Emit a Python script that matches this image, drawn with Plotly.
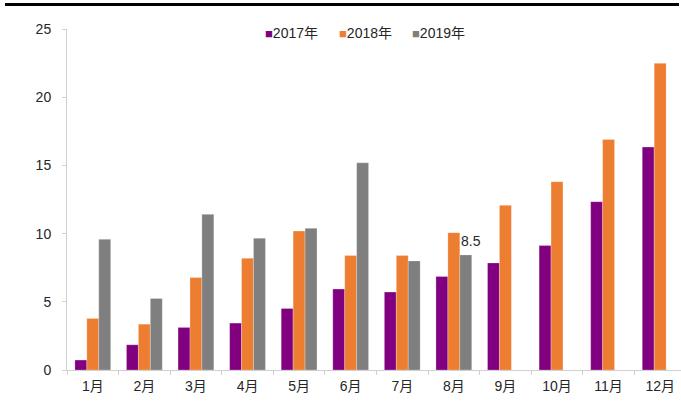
import plotly.graph_objects as go

months = ["1月", "2月", "3月", "4月", "5月", "6月", "7月", "8月", "9月", "10月", "11月", "12月"]
series_names = ["2017年", "2018年", "2019年"]
v2017 = [0.73, 1.85, 3.12, 3.44, 4.51, 5.93, 5.71, 6.85, 7.85, 9.12, 12.34, 16.34]
v2018 = [3.78, 3.36, 6.78, 8.19, 10.19, 8.39, 8.39, 10.07, 12.07, 13.8, 16.9, 22.48]
v2019 = [9.58, 5.24, 11.41, 9.66, 10.39, 15.19, 8.0, 8.44, None, None, None, None]
colors = ["#800080", "#ED7D31", "#7F7F7F"]
y_ticks = [0, 5, 10, 15, 20, 25]
label_month = "8月"
label_value = 8.44
label_text = "8.5"

FONT = "Liberation Sans, Arial, Noto Sans CJK SC, sans-serif"

fig = go.Figure()
for name, vals, col in zip(series_names, [v2017, v2018, v2019], colors):
    fig.add_trace(go.Bar(
        x=months, y=vals, name=name,
        marker=dict(color=col, line=dict(color="rgba(255,255,255,0.5)", width=0.5)),
        showlegend=False,
    ))

# custom legend as text
legend_x = [0.319, 0.439, 0.5586]
for name, col, lx in zip(series_names, colors, legend_x):
    fig.add_annotation(
        xref="paper", yref="paper", x=lx, y=0.988,
        xanchor="left", yanchor="middle", showarrow=False,
        text=f"<span style='color:{col};font-size:13px'>■</span>{name}",
        font=dict(family=FONT, size=14, color="#262626"),
    )

fig.add_annotation(
    x=label_month, y=label_value, xshift=17, yshift=4,
    yanchor="bottom", showarrow=False, text=label_text,
    font=dict(family=FONT, size=14, color="#262626"),
)

fig.add_shape(type="line", xref="paper", yref="paper",
              x0=-0.101, x1=0.9967, y0=1.0718, y1=1.0718,
              line=dict(color="black", width=3))

fig.update_layout(
    width=681, height=412,
    margin=dict(l=67, r=0, t=29, b=42),
    paper_bgcolor="white", plot_bgcolor="white",
    barmode="group", bargap=0.306, bargroupgap=0,
    font=dict(family=FONT, size=14, color="#262626"),
    xaxis=dict(
        range=[-0.5, 11.404], showline=True, linecolor="#D0D0D0", linewidth=1,
        ticks="outside", tickson="boundaries", ticklen=4, tickcolor="#D0D0D0",
        showgrid=False, tickfont=dict(size=14), ticklabelstandoff=3,
    ),
    yaxis=dict(
        range=[0, 25], tickvals=y_ticks, showline=True, linecolor="#D0D0D0", linewidth=1,
        ticks="outside", ticklen=4, tickcolor="#D0D0D0", showgrid=False, zeroline=False,
        tickfont=dict(size=14), ticklabelstandoff=8,
    ),
)

fig.write_html("out.html", config={"displayModeBar": False},
               post_script="document.body.style.margin='0';document.body.style.overflow='hidden';")
